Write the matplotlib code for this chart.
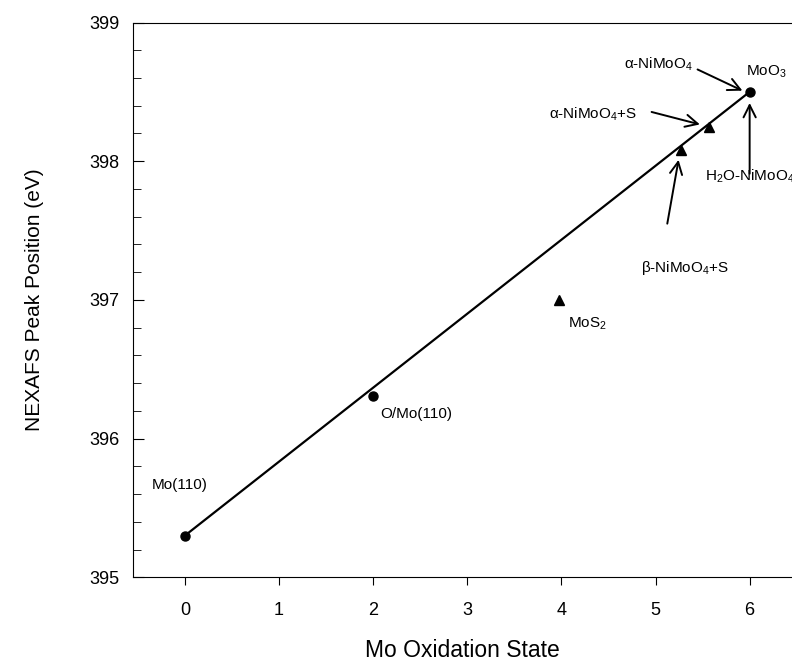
import matplotlib
matplotlib.use('Agg')
import matplotlib.pyplot as plt
from matplotlib.ticker import MultipleLocator

plt.rcParams['font.family'] = ['Liberation Sans', 'DejaVu Sans']
plt.rcParams['mathtext.fontset'] = 'custom'
plt.rcParams['mathtext.rm'] = 'Liberation Sans'

# data
circle_x = [0, 2, 6]
circle_y = [395.3, 396.31, 398.5]
tri_x = [3.98, 5.27, 5.57]
tri_y = [397.0, 398.08, 398.25]
fit_x = [0, 6]
fit_y = [395.3, 398.5]

fig = plt.figure(figsize=(7.92, 6.62), dpi=100)
ax = fig.add_axes([0.168, 0.128, 0.832, 0.838])

ax.plot(fit_x, fit_y, color='black', lw=1.6)
ax.plot(circle_x, circle_y, 'o', color='black', ms=6.5)
ax.plot(tri_x, tri_y, '^', color='black', ms=7)

ax.set_xlim(-0.55, 6.45)
ax.set_ylim(395, 399)
ax.xaxis.set_major_locator(MultipleLocator(1))
ax.yaxis.set_major_locator(MultipleLocator(1))
ax.yaxis.set_minor_locator(MultipleLocator(0.2))
ax.tick_params(axis='x', direction='out', length=6, labelsize=13, pad=12)
ax.tick_params(axis='y', which='both', direction='in', labelsize=13, pad=10)
ax.tick_params(axis='y', which='major', length=8)
ax.tick_params(axis='y', which='minor', length=6)
ax.spines['right'].set_visible(False)

ax.set_xlabel('Mo Oxidation State', fontsize=16.5, labelpad=14)
ax.set_ylabel('NEXAFS Peak Position (eV)', fontsize=15, labelpad=32)

fs = 11
ax.text(-0.35, 395.64, 'Mo(110)', fontsize=fs)
ax.text(2.08, 396.15, 'O/Mo(110)', fontsize=fs)
ax.text(4.07, 396.8, 'MoS$_2$', fontsize=fs)
ax.text(4.85, 397.2, 'β-NiMoO$_4$+S', fontsize=fs)
ax.text(3.87, 398.31, 'α-NiMoO$_4$+S', fontsize=fs)
ax.text(4.67, 398.67, 'α-NiMoO$_4$', fontsize=fs)
ax.text(5.96, 398.62, 'MoO$_3$', fontsize=fs)
ax.text(5.53, 397.86, 'H$_2$O-NiMoO$_4$', fontsize=fs, clip_on=False)

arrow = dict(arrowstyle='->', color='black', lw=1.4, mutation_scale=22)
ax.annotate('', xy=(5.95, 398.5), xytext=(5.42, 398.67), arrowprops=arrow)
ax.annotate('', xy=(5.5, 398.26), xytext=(4.93, 398.36), arrowprops=arrow)
ax.annotate('', xy=(6.0, 398.44), xytext=(6.0, 397.89), arrowprops=arrow)
ax.annotate('', xy=(5.25, 398.03), xytext=(5.12, 397.53), arrowprops=arrow)

fig.savefig('out.png', dpi=100)
